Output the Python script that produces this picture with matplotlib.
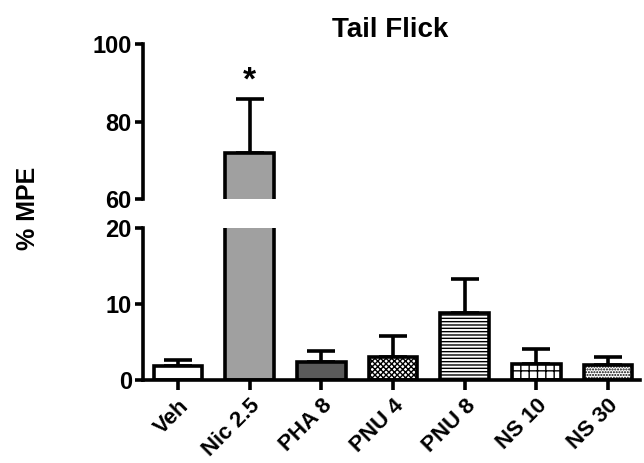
import numpy as np
import matplotlib.pyplot as plt

plt.rcParams['font.family'] = ['Liberation Sans', 'DejaVu Sans']
plt.rcParams['font.weight'] = 'bold'
plt.rcParams['hatch.linewidth'] = 1.0

# data
groups = ['Veh', 'Nic 2.5', 'PHA 8', 'PNU 4', 'PNU 8', 'NS 10', 'NS 30']
mpe = [1.8, 71.9, 2.4, 3.1, 8.9, 2.1, 2.0]
sem = [0.9, 13.9, 1.4, 2.7, 4.4, 2.0, 1.0]
colors = ['white', '#a0a0a0', '#5a5a5a', 'white', 'white', 'white', 'white']
hatches = [None, None, None, 'xxxxxx', '-----', '++', '......']

LW = 2.6
x = np.arange(len(groups))

fig = plt.figure(figsize=(6.44, 4.63), dpi=100)
ax_top = fig.add_axes([0.222, 0.570, 0.772, 0.335])
ax_bot = fig.add_axes([0.222, 0.179, 0.772, 0.328])

for ax in (ax_top, ax_bot):
    ax.bar(x, mpe, width=0.68, color=colors, edgecolor='black',
           linewidth=LW, hatch=hatches, zorder=2)
    ax.errorbar(x, mpe, yerr=[np.zeros(len(sem)), sem], fmt='none',
                ecolor='black', elinewidth=LW, capsize=10, capthick=LW, zorder=1)
    ax.set_xlim(-0.49, 6.45)
    for s in ['top', 'right']:
        ax.spines[s].set_visible(False)
    ax.spines['left'].set_linewidth(LW)
    ax.spines['bottom'].set_linewidth(LW)
    ax.tick_params(axis='y', width=LW, length=6, labelsize=17, pad=2)

ax_top.set_ylim(60, 100)
ax_top.set_yticks([60, 80, 100])
ax_top.spines['bottom'].set_visible(False)
ax_top.set_xticks([])
ax_top.text(1, 86.5, '*', ha='center', va='bottom', fontsize=24, fontweight='bold')

ax_bot.set_ylim(0, 20)
ax_bot.set_yticks([0, 10, 20])
ax_bot.set_xticks(x)
ax_bot.set_xticklabels(groups, rotation=45, ha='right', rotation_mode='anchor',
                       fontsize=16, fontweight='bold')
ax_bot.tick_params(axis='x', width=LW, length=7, pad=4)

fig.text(390 / 644, 1 - 30 / 463, 'Tail Flick', ha='center', va='center',
         fontsize=20, fontweight='bold')
fig.text(0.044, 0.551, '% MPE', rotation=90, ha='center', va='center',
         fontsize=18, fontweight='bold')

fig.savefig('out.png', dpi=100)
